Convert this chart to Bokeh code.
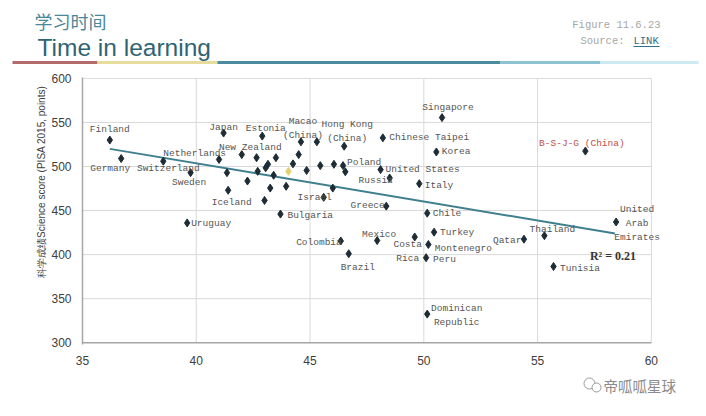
import math
from bokeh.plotting import figure
from bokeh.layouts import column, row
from bokeh.models import Range1d, Label, ColumnDataSource, FixedTicker
from bokeh.core.properties import value
from bokeh.embed import file_html
from bokeh.resources import INLINE

# ---------------- data ----------------
countries = ["Finland", "Germany", "Switzerland", "Sweden", "Netherlands", "Japan",
             "Iceland", "Uruguay", "New Zealand", "Estonia", "Macao (China)",
             "Hong Kong (China)", "Poland", "Israel", "Bulgaria", "Russia", "Greece",
             "Chinese Taipei", "United States", "Italy", "Singapore", "Korea",
             "B-S-J-G (China)", "Chile", "United Arab Emirates", "Colombia", "Brazil",
             "Mexico", "Costa Rica", "Turkey", "Montenegro", "Peru", "Qatar",
             "Thailand", "Tunisia", "Dominican Republic"]
hours = [36.2, 36.7, 38.55, 39.75, 41.0, 41.2,
         41.4, 39.6, 42.0, 42.9, 44.6,
         46.5, 46.45, 45.6, 43.7, 48.5, 48.35,
         48.2, 48.1, 49.8, 50.8, 50.55,
         57.1, 50.15, 58.45, 46.35, 46.7,
         47.95, 49.6, 50.45, 50.2, 50.1, 54.4,
         55.3, 55.7, 50.15]
science = [530, 509, 506, 493, 508, 538,
           473, 436, 513.5, 534.5, 528,
           523, 501, 465, 446, 487, 455,
           532.5, 496.5, 480.5, 555.5, 516.5,
           517.5, 447, 437, 415.5, 401,
           416, 420, 425.5, 411.5, 396.5, 417.5,
           421.5, 386.5, 332.5]
label_text = ["Finland", "Germany", "Switzerland", "Sweden", "Netherlands", "Japan",
              "Iceland", "Uruguay", "New Zealand", "Estonia", "Macao\n(China)",
              "Hong Kong\n(China)", "Poland", "Israel", "Bulgaria", "Russia", "Greece",
              "Chinese Taipei", "United States", "Italy", "Singapore", "Korea",
              "B-S-J-G (China)", "Chile", "United\nArab\nEmirates", "Colombia", "Brazil",
              "Mexico", "Costa\nRica", "Turkey", "Montenegro", "Peru", "Qatar",
              "Thailand", "Tunisia", "Dominican\nRepublic"]

# unlabeled countries
other_hours = [41.35, 42.25, 42.65, 42.7, 43.05, 43.15, 43.4, 43.5, 43.25, 43.95,
               43.0, 44.25, 44.5, 44.85, 45.3, 45.45, 46.05, 46.55, 46.0]
other_science = [493, 483.5, 510, 494.5, 498.5, 502.5, 490, 510, 475.5, 477.5,
                 461.5, 503, 513.5, 495.5, 528, 501, 502.5, 494, 475.5]

# OECD average (yellow marker)
avg_hours = [44.05]
avg_science = [494.5]

# fitted trend line end points
trend_x = [36.2, 58.4]
trend_y = [520, 424]
r2_text = "R² = 0.21"

x_ticks = [35, 40, 45, 50, 55, 60]
y_ticks = [300, 350, 400, 450, 500, 550, 600]

title_cn = "学习时间"
title_en = "Time in learning"
figure_no = "Figure 11.6.23"
source_txt = "Source:"
source_link = "LINK"
y_label = "科学成绩Science score (PISA 2015, points)"
watermark = "帝呱呱星球"

# ---------------- label layout (pixel offsets) ----------------
lab_align = ["center", "center", "center", "center", "right", "center",
             "center", "left", "center", "center", "center",
             "center", "left", "center", "left", "center", "right",
             "left", "left", "left", "center", "left",
             "center", "left", "center", "right", "center",
             "center", "center", "left", "left", "left", "right",
             "center", "left", "center"]
lab_dx = [0, -11, 5, -1.5, 7, 0,
          3.5, 4, 8.5, 3.5, 2,
          3, 4, -9, 7, -14, -1.5,
          6.5, 5, 5.5, 6, 5.5,
          -3.5, 5.5, 21, 1, 9,
          2, -7, 6, 6.5, 7, -2.5,
          8, 6.5, 29.5]
lab_dy = [-11, 10, 7, 9.5, -6, -6,
          12.5, 1, -7.5, -7.5, -13,
          -14.5, -3, 0, 1.5, 3, -1,
          0, 0, 2, -10, 0,
          -7.5, 0, 1.5, 1.5, 13.5,
          -6, 14.5, 0.5, 4, 1.5, 1,
          -6.5, 1.5, 1.5]

TOTAL_W = 700
HEAD_H, MAIN_H, FOOT_H = 68, 302, 40
YLAB_W = 48
MAIN_W = TOTAL_W - YLAB_W


def blank(w, h):
    f = figure(width=w, height=h, output_backend="svg", toolbar_location=None,
               x_range=Range1d(0, w), y_range=Range1d(h, 0),
               min_border=0, min_border_left=0, min_border_right=0,
               min_border_top=0, min_border_bottom=0)
    f.axis.visible = False
    f.grid.visible = False
    f.outline_line_color = None
    f.background_fill_color = "white"
    f.border_fill_color = "white"
    return f


def txt(f, x, y, s, font, size, color, align="left", baseline="middle", angle=0,
        style="normal"):
    f.text(x=[x], y=[y], text=[s], text_font=value(font), text_font_size=size,
           text_color=color, text_align=align, text_baseline=baseline,
           angle=angle, text_font_style=style)


# ---------------- header ----------------
head = blank(TOTAL_W, HEAD_H)
txt(head, 34, 20, title_cn, "Noto Sans CJK SC", "18px", "#4a8798")
txt(head, 37, 47, title_en, "Liberation Sans", "24.5px", "#2f6474")
txt(head, 660, 24, figure_no, "Liberation Mono", "10.5px", "#a6a6a6", align="right")
txt(head, 624, 40, source_txt, "Liberation Mono", "10.5px", "#a6a6a6", align="right")
txt(head, 633, 40, source_link, "Liberation Mono", "10.5px", "#2f6f8a")
head.line([633, 659], [46, 46], line_color="#2f6f8a", line_width=1)
for x0, x1, col in ((12, 97, "#b36a6a"), (97, 217, "#e6dc9c"), (217, 500, "#4b8ba0"),
                    (500, 600, "#8cc2d2"), (600, 698, "#cdeaf2")):
    head.line([x0, x1], [62, 62], line_color=col, line_width=3)

# ---------------- y-axis title ----------------
ylab = blank(YLAB_W, MAIN_H)
txt(ylab, 41, 118, y_label, "Liberation Sans", "10px", "#404040", align="center",
    angle=math.pi / 2)

# ---------------- main plot ----------------
p = figure(width=MAIN_W, height=MAIN_H, output_backend="svg", toolbar_location=None,
           x_range=Range1d(35, 61.5), y_range=Range1d(298, 601),
           min_border_left=28, min_border_right=15, min_border_top=9,
           min_border_bottom=26)
p.background_fill_color = "white"
p.border_fill_color = "white"
p.outline_line_color = None
p.grid.visible = False

p.xaxis.ticker = FixedTicker(ticks=x_ticks)
p.yaxis.ticker = FixedTicker(ticks=y_ticks)
for ax in (p.xaxis[0], p.yaxis[0]):
    ax.axis_line_color = "#a6a6a6"
    ax.axis_line_width = 1.5
    ax.major_tick_line_color = None
    ax.minor_tick_line_color = None
    ax.major_label_text_font = "Liberation Sans"
    ax.major_label_text_font_size = "12px"
    ax.major_label_text_color = "#404040"
p.xaxis.axis_line_color = None
p.xaxis.major_label_standoff = 5
p.yaxis.major_label_standoff = 5

# grid (limited to 35-60)
gx = [t for t in x_ticks if t > x_ticks[0]]
p.segment(x0=gx, y0=[y_ticks[0]] * len(gx), x1=gx, y1=[y_ticks[-1]] * len(gx),
          line_color="#d9d9d9", line_width=1)
gy = [t for t in y_ticks if t > y_ticks[0]]
p.segment(x0=[x_ticks[0]] * len(gy), y0=gy, x1=[x_ticks[-1]] * len(gy), y1=gy,
          line_color="#d9d9d9", line_width=1)
# bottom axis line
p.segment(x0=[x_ticks[0]], y0=[y_ticks[0]], x1=[x_ticks[-1]], y1=[y_ticks[0]],
          line_color="#a6a6a6", line_width=1.5)

# trend line
p.line(trend_x, trend_y, line_color="#3f7f8f", line_width=2)

# points
p.scatter(other_hours, other_science, marker="diamond", size=8, color="#1e2d35")
p.scatter(hours, science, marker="diamond", size=8, color="#1e2d35")
p.scatter(avg_hours, avg_science, marker="diamond", size=8, color="#e3cf72")

# data labels
for al in ("left", "center", "right"):
    idx = [i for i, a in enumerate(lab_align) if a == al]
    src = ColumnDataSource(dict(
        x=[hours[i] for i in idx], y=[science[i] for i in idx],
        t=[label_text[i] for i in idx], dx=[lab_dx[i] for i in idx],
        dy=[lab_dy[i] for i in idx],
        c=["#c0504d" if countries[i].startswith("B-S-J-G") else "#555555" for i in idx]))
    p.text(x="x", y="y", text="t", x_offset="dx", y_offset="dy", source=src,
           text_align=al, text_baseline="middle", text_color="c",
           text_font=value("Liberation Mono"), text_font_size="9.5px",
           text_line_height=1.3)

# R squared
p.add_layout(Label(x=57.3, y=399, text=r2_text, text_font="Liberation Serif",
                   text_font_size="12px", text_font_style="bold",
                   text_color="#333333", text_baseline="middle"))

# ---------------- footer ----------------
foot = blank(TOTAL_W, FOOT_H)
foot.scatter([589, 596], [13, 17], marker="circle", size=[11, 9],
             fill_color="white", line_color="#9a9a9a", line_width=1)
txt(foot, 603, 15, watermark, "Noto Sans CJK SC", "14.5px", "#8a8a8a")

layout = column(head, row(ylab, p, spacing=0), foot, spacing=0)
open("out.html", "w").write(file_html(layout, INLINE))
